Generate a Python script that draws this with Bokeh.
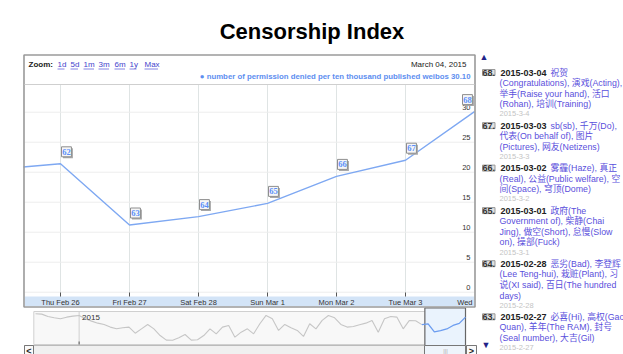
import pandas as pd
from bokeh.plotting import figure
from bokeh.models import Range1d, Label, LabelSet, ColumnDataSource
from bokeh.embed import file_html
from bokeh.resources import INLINE
from bokeh.core.properties import value

# ---------------- data ----------------
chart_title = "Censorship Index"
series_name = "number of permission denied per ten thousand published weibos"
last_value_text = "30.10"
current_date_text = "March 04, 2015"
zoom_links = ["1d", "5d", "1m", "3m", "6m", "1y", "Max"]

dates = ["2015-02-25", "2015-02-26", "2015-02-27", "2015-02-28",
         "2015-03-01", "2015-03-02", "2015-03-03", "2015-03-04"]
index_values = [20.4, 21.4, 11.2, 12.6, 14.8, 19.3, 22.0, 30.1]

flag_dates = ["2015-02-26", "2015-02-27", "2015-02-28", "2015-03-01",
              "2015-03-02", "2015-03-03", "2015-03-04"]
flag_values = [21.4, 11.2, 12.6, 14.8, 19.3, 22.0, 30.1]
flag_labels = ["62", "63", "64", "65", "66", "67", "68"]

tick_dates = ["2015-02-26", "2015-02-27", "2015-02-28", "2015-03-01",
              "2015-03-02", "2015-03-03"]
tick_labels = ["Thu Feb 26", "Fri Feb 27", "Sat Feb 28", "Sun Mar 1",
               "Mon Mar 2", "Tue Mar 3"]
y_ticks = [0, 5, 10, 15, 20, 25, 30]
y_grid = [0, 5, 10, 15, 20, 25, 30]
value_window = (-0.72, 34.6)      # visible value range of the main plot

# overview (navigator) history, 2014-12-25 .. 2015-02-24
history_start = "2014-12-25"
history_values = [34.3, 33.9, 30.9, 29.2, 27.9, 30.0, 31.3, 32.2, 27.9, 24.9,
                  22.3, 20.6, 17.2, 15.0, 16.3, 17.2, 9.4, 15.0, 20.6, 15.0,
                  6.4, 0.5, 0.3, 3.4, 7.7, 0.5, 0.9, 6.4, 15.0, 8.6,
                  17.2, 19.3, 4.3, 10.7, 15.0, 8.6, 21.5, 32.2, 27.9, 12.9,
                  20.6, 16.3, 12.9, 5.2, 21.5, 15.0, 25.8, 32.2, 29.2, 20.6,
                  17.2, 18.0, 20.2, 22.3, 25.8, 10.7, 27.9, 30.9, 30.0, 15.0,
                  25.8, 25.3]
year_mark = "2015-01-01"
year_label = "2015"

list_ids = ["68.", "67.", "66.", "65.", "64.", "63."]
list_dates = ["2015-03-04", "2015-03-03", "2015-03-02", "2015-03-01", "2015-02-28", "2015-02-27"]
list_first = ["祝贺", "sb(sb), 千万(Do),", "雾霾(Haze), 真正", "政府(The",
              "恶劣(Bad), 李登辉", "必喜(Hi), 高权(Gao"]
list_more = [
    ["(Congratulations), 演戏(Acting),", "举手(Raise your hand), 活口", "(Rohan), 培训(Training)"],
    ["代表(On behalf of), 图片", "(Pictures), 网友(Netizens)"],
    ["(Real), 公益(Public welfare), 空", "间(Space), 穹顶(Dome)"],
    ["Government of), 柴静(Chai", "Jing), 做空(Short), 怠慢(Slow", "on), 操部(Fuck)"],
    ["(Lee Teng-hui), 栽赃(Plant), 习", "说(XI said), 百日(The hundred", "days)"],
    ["Quan), 羊年(The RAM), 封号", "(Seal number), 大吉(Gil)"],
]
list_sub = ["2015-3-4", "2015-3-3", "2015-3-2", "2015-3-1", "2015-2-28", "2015-2-27"]

# ---------------- helpers ----------------
DAY = 86400000.0
W, H = 623, 354


def ms(d):
    return pd.Timestamp(d).value / 1e6


FONT = "'Liberation Sans', 'Noto Sans CJK SC', sans-serif"

# page-pixel canvas (y grows downward)
p = figure(width=W, height=H, x_range=Range1d(0, W), y_range=Range1d(H, 0),
           output_backend="svg", toolbar_location=None,
           x_axis_location=None, y_axis_location=None,
           min_border=0, min_border_left=0, min_border_right=0,
           min_border_top=0, min_border_bottom=0,
           outline_line_color=None, background_fill_color="white",
           border_fill_color="white")
p.grid.visible = False

# ---- scales of the main plot (date -> px, value -> px) ----
MAIN_PX_PER_DAY = 69.0
tx_start = ms(tick_dates[0]) - 60 * DAY / MAIN_PX_PER_DAY
p.extra_x_ranges["tx"] = Range1d(tx_start, tx_start + W * DAY / MAIN_PX_PER_DAY)
ZERO_Y, PX_PER_UNIT = 291.7, 6.0
p.extra_y_ranges["vy"] = Range1d(-(H - ZERO_Y) / PX_PER_UNIT, ZERO_Y / PX_PER_UNIT)

x_end = ms(dates[-1])
x_start = tx_start + 24 * DAY / MAIN_PX_PER_DAY

# ---- scales of the navigator ----
NAV_PX_PER_DAY = 6.232
nx_start = ms(history_start) - 35 * DAY / NAV_PX_PER_DAY
p.extra_x_ranges["nx"] = Range1d(nx_start, nx_start + W * DAY / NAV_PX_PER_DAY)
NZERO_Y, NPX_PER_UNIT = 340.0, 0.778
p.extra_y_ranges["ny"] = Range1d(-(H - NZERO_Y) / NPX_PER_UNIT, NZERO_Y / NPX_PER_UNIT)

# ---------------- chart chrome ----------------
p.quad(left=23.5, right=474.5, top=54.5, bottom=306.5, fill_color="white",
       line_color=None)

# grid
tick_ms = [ms(d) for d in tick_dates]
p.segment(x0=tick_ms, x1=tick_ms, y0=[value_window[0]] * len(tick_ms),
          y1=[value_window[1]] * len(tick_ms), x_range_name="tx", y_range_name="vy",
          line_color="#dfe4e4", line_width=1)
p.segment(x0=[x_start] * len(y_grid), x1=[x_end] * len(y_grid), y0=y_grid, y1=y_grid,
          x_range_name="tx", y_range_name="vy", line_color="#ededed", line_width=1)

# series line
p.line([ms(d) for d in dates], index_values, x_range_name="tx", y_range_name="vy",
       line_color="#7ea8f2", line_width=1.4)
# mask what falls left of the plot box, then the box outline on top
mask = p.quad(left=-20, right=23.0, top=80, bottom=300, fill_color="white", line_color=None)
mask.level = "overlay"
box = p.quad(left=23.5, right=474.5, top=54.5, bottom=306.5, fill_alpha=0,
             line_color="#9a9a9a", line_width=1.6)
box.level = "overlay"
sep = p.segment(x0=24, x1=474, y0=84, y1=84, line_color="#cfcfcf", line_width=1)
sep.level = "overlay"

# date axis band, tick marks and tick labels
p.quad(left=24.3, right=473.7, top=296, bottom=305.7, fill_color="#d3e4f7", line_color=None)
p.segment(x0=tick_ms, x1=tick_ms, y0=[292] * len(tick_ms), y1=[296] * len(tick_ms),
          x_range_name="tx", line_color="#555555", line_width=1)
p.text(x=tick_ms, y=[301.5] * len(tick_ms), text=tick_labels, x_range_name="tx",
       text_align="center", text_baseline="middle", text_font=value(FONT),
       text_font_size="7.5px", text_color="#333333")
p.text(x=[472], y=[301.5], text=["Wed"], text_align="right", text_baseline="middle",
       text_font=value(FONT), text_font_size="7.5px", text_color="#333333")

# value labels inside the plot (right side)
p.text(x=[470] * len(y_ticks), y=y_ticks, text=[str(v) for v in y_ticks],
       y_range_name="vy", text_align="right", text_baseline="bottom", y_offset=-2,
       text_font=value(FONT), text_font_size="7.5px", text_color="#333333")

# flags (shadow, then box with number)
flag_src = ColumnDataSource(dict(
    x=[ms(d) for d in flag_dates], y=flag_values,
    t=["\u200a" + s + "\u200a" for s in flag_labels],
    dx=[1 if ms(d) < x_end - 1 else -12 for d in flag_dates]))
flag_src.data["sx"] = [d + 1.5 for d in flag_src.data["dx"]]
p.add_layout(LabelSet(x="x", y="y", text="t", source=flag_src, x_range_name="tx",
                      y_range_name="vy", x_offset="sx", y_offset=5.5,
                      text_font=FONT, text_font_size="8.5px", text_font_style="bold",
                      text_alpha=0, text_baseline="bottom",
                      background_fill_color="#a8a8a8", border_line_color=None))
p.add_layout(LabelSet(x="x", y="y", text="t", source=flag_src, x_range_name="tx",
                      y_range_name="vy", x_offset="dx", y_offset=7,
                      text_font=FONT, text_font_size="8.5px", text_font_style="bold",
                      text_color="#5b8ff9", text_baseline="bottom",
                      background_fill_color="#f6f6f6", border_line_color="#8e8e8e"))


def lab(X, Y, text, size="8px", color="#222222", style="normal", align="left",
        baseline="middle", **kw):
    p.add_layout(Label(x=X, y=Y, text=text, text_font=FONT, text_font_size=size,
                       text_color=color, text_font_style=style, text_align=align,
                       text_baseline=baseline, **kw))


lab(311.5, 31, chart_title, size="22px", color="#000000", style="bold",
    align="center", baseline="alphabetic")
lab(28, 64, "Zoom:", size="8px", style="bold")
link_x = [57, 70, 83, 98, 114, 129, 144]
link_w = [7, 7.5, 10.5, 10.5, 10.5, 7, 13.5]
for lx, lt in zip(link_x, zoom_links):
    lab(lx, 64, lt, size="8px", color="#4444cc")
p.segment(x0=link_x, x1=[a + b for a, b in zip(link_x, link_w)], y0=[68.5] * len(link_x),
          y1=[68.5] * len(link_x), line_color="#6666dd", line_width=0.8)
lab(466, 64, current_date_text, size="8px", color="#222222", align="right")
lab(470, 75.5, "● " + series_name + " " + last_value_text, size="7.8px",
    color="#5d8ef0", style="bold", align="right")

# ---------------- navigator ----------------
p.quad(left=33.3, right=465, top=311, bottom=344, fill_color="#f8f8f8", line_color="#d0d0d0")
p.quad(left=[x_start], right=[x_end], top=[307.5], bottom=[354], x_range_name="nx",
       fill_color="#eaf3fd", line_color="#666666", line_width=1.2)
p.segment(x0=[ms(year_mark)], x1=[ms(year_mark)], y0=[311], y1=[344], x_range_name="nx",
          line_color="#d0d0d0", line_width=1)
p.segment(x0=[ms(year_mark)], x1=[ms(year_mark)], y0=[341], y1=[344], x_range_name="nx",
          line_color="#555555", line_width=1)
hist_ms = [ms(d) for d in pd.date_range(history_start, periods=len(history_values), freq="D")]
p.line(hist_ms + [ms(dates[0])], history_values + [index_values[0]],
       x_range_name="nx", y_range_name="ny", line_color="#c6c6c6", line_width=1.1)
p.line([ms(d) for d in dates], index_values, x_range_name="nx", y_range_name="ny",
       line_color="#6b9cf0", line_width=1.3)
p.add_layout(Label(x=ms(year_mark), y=317, x_range_name="nx", text=year_label, x_offset=3,
                   text_font=FONT, text_font_size="8px", text_color="#333333",
                   text_baseline="middle"))

# scrollbar
p.quad(left=24, right=476, top=345, bottom=354, fill_color="#f0f0f0", line_color="#bbbbbb")
p.quad(left=[424, 24, 466], right=[465, 33, 476], top=[345] * 3, bottom=[354] * 3,
       fill_color=["#eef4fb", "#fafafa", "#fafafa"], line_color="#777777")
lab(28.5, 350, "<", size="9px", style="bold", align="center")
lab(471, 350, ">", size="9px", style="bold", align="center")
lab(445, 350, "|||", size="6px", color="#aaaaaa", align="center")

# ---------------- annotation list ----------------
lab(479, 56, "▲", size="9px", color="#222288")
lab(481, 344, "▼", size="9px", color="#222288")

y = 72.0
for i in range(len(list_ids)):
    lab(482, y, list_ids[i], size="9px", color="#333333", style="bold",
        background_fill_color="#e2e2e2", border_line_color="#999999")
    lab(500, y, list_dates[i], size="9px", color="#222222", style="bold")
    lab(550, y, list_first[i], size="8.8px", color="#5a4fdc")
    for line in list_more[i]:
        y += 10.6
        lab(499, y, line, size="8.8px", color="#5a4fdc")
    y += 9.6
    lab(499, y, list_sub[i], size="7.5px", color="#c4c4c4")
    y += 11.7

open("out.html", "w").write(file_html(p, INLINE))
